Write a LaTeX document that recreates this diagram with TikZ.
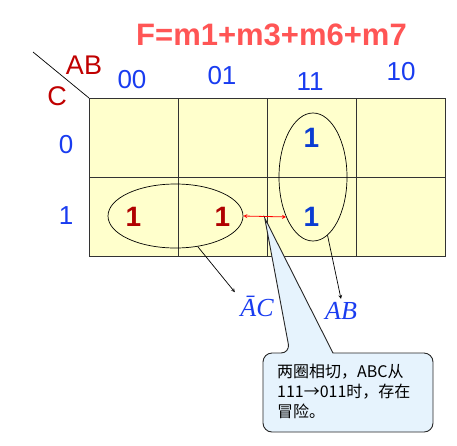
\documentclass[tikz,border=0pt]{standalone}
\usepackage{fontspec}
\setmainfont{Liberation Sans}
\newfontfamily\cjk{Noto Sans CJK SC}
\newfontfamily\termfont{Liberation Serif}
\usetikzlibrary{shapes.geometric, arrows, positioning}

\definecolor{cellfill}{RGB}{255,255,204}
\definecolor{labred}{RGB}{192,0,0}
\definecolor{labblue}{RGB}{25,60,240}
\definecolor{onered}{RGB}{176,0,0}
\definecolor{oneblue}{RGB}{10,60,210}
\definecolor{titlered}{RGB}{255,85,85}
\definecolor{notefill}{RGB}{230,243,253}

\begin{document}
\begin{tikzpicture}[
    x=1pt, y=-1pt,
    node distance=0pt,
    cell/.style={rectangle, draw=black!80, line width=0.8pt, outer sep=0pt, fill=cellfill, minimum width=89pt, minimum height=79pt, font=\bfseries\fontsize{28}{28}\selectfont},
    group/.style={ellipse, draw, line width=0.7pt, inner sep=0pt},
    colnum/.style={text=labblue, font=\fontsize{26}{26}\selectfont},
    varname/.style={text=labred, font=\fontsize{27}{27}\selectfont},
    term/.style={text=labblue, font=\termfont\itshape\fontsize{26}{26}\selectfont},
    note/.style={align=left, inner sep=0pt, font=\cjk\fontsize{16}{20}\selectfont},
    callout/.style={draw=black!85, fill=notefill, line width=0.9pt},
    arrow/.style={line width=0.7pt,->,>=stealth},
    hazard/.style={red, line width=0.8pt,<->,>=stealth}
]
    \useasboundingbox (0,0) rectangle (457,445);

    \node[font=\bfseries\fontsize{31}{31}\selectfont, text=titlered] (title) at (271.5,35) {F=m1+m3+m6+m7};

    % Map cells
    \node[cell] (c00) at (133.5,137.5) {};
    \node[cell, right=of c00] (c01) {};
    \node[cell, right=of c01, text=oneblue] (c02) {1};
    \node[cell, right=of c02] (c03) {};
    \node[cell, below=of c00, text=onered] (c10) {1};
    \node[cell, right=of c10, text=onered] (c11) {1};
    \node[cell, right=of c11, text=oneblue] (c12) {1};
    \node[cell, right=of c12] (c13) {};

    % Variables and codes
    \coordinate (slash) at (33,52);
    \draw[line width=0.7pt] (slash) -- (c00.north west);
    \node[varname] (vAB) at (84,65) {AB};
    \node[varname] (vC) at (57,96) {C};
    \node[colnum] (h00) at (132,80) {00};
    \node[colnum] (h01) at (222,76) {01};
    \node[colnum] (h11) at (310,82) {11};
    \node[colnum] (h10) at (401,72) {10};
    \node[colnum] (r0) at (66,145) {0};
    \node[colnum] (r1) at (66,216) {1};

    % Groups
    \node[group, minimum width=135pt, minimum height=64pt] (gAC) at (175.5,216) {};
    \node[group, minimum width=68pt, minimum height=128pt] (gAB) at (313,177) {};
    \node[term] (lAC) at (257,306) {ĀC};
    \node[term] (lAB) at (341,311) {AB};

    % Arrows
    \draw[arrow] (gAC.-54) -- ([xshift=-2pt]lAC.north west);
    \draw[arrow] (gAB.-76) -- (lAB.north);
    \draw[hazard] (gAC.east) -- coordinate[pos=0.5] (tip) (gAB.236);

    % Callout
    \coordinate (nw) at (263,353);
    \coordinate (se) at (433,432);
    \draw[callout] ([xshift=70pt]nw) [rounded corners=9pt] -- (se |- nw) -- (se) -- (nw |- se) -- (nw) -- ([xshift=27pt]nw) [sharp corners] -- ([yshift=-1.5pt]tip) -- cycle;
    \node[note, below right=11pt and 14pt of nw] (msg) {两圈相切，ABC从\\111→011时，存在\\冒险。};
\end{tikzpicture}
\end{document}
